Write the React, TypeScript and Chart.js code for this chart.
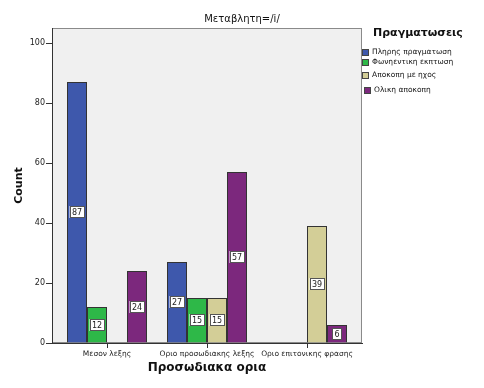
import React, { useEffect, useRef } from "react";
import { Chart, registerables } from "chart.js";

Chart.register(...registerables);

const categories = ["Μεσον λεξης", "Οριο προσωδιακης λεξης", "Οριο επιτονικης φρασης"];
const seriesNames = ["Πληρης πραγματωση", "Φωνηεντικη εκπτωση", "Αποκοπη με ηχος", "Ολικη αποκοπη"];
const plirisPragmatosi: (number | null)[] = [87, 27, null];
const fonientikiEkptosi: (number | null)[] = [12, 15, null];
const apokopiMeIxos: (number | null)[] = [null, 15, 39];
const olikiApokopi: (number | null)[] = [24, 57, 6];
const seriesColors = ["#3E58AC", "#2EB848", "#D3CE97", "#7C287D"];
const yTicks = [0, 20, 40, 60, 80, 100];
const chartTitle = "Μεταβλητη=/i/";
const xTitle = "Προσωδιακα ορια";
const yTitle = "Count";
const legendTitle = "Πραγματωσεις";

const FONT = "'DejaVu Sans', Verdana, sans-serif";

const decorPlugin = {
  id: "decor",
  beforeDraw(chart: any) {
    const { ctx, chartArea } = chart;
    ctx.save();
    ctx.fillStyle = "#FFFFFF";
    ctx.fillRect(0, 0, chart.width, chart.height);
    ctx.fillStyle = "#F0F0F0";
    ctx.fillRect(chartArea.left, chartArea.top, chartArea.right - chartArea.left, chartArea.bottom - chartArea.top);
    ctx.strokeStyle = "#8A8A8A";
    ctx.lineWidth = 1;
    ctx.strokeRect(chartArea.left + 0.5, chartArea.top + 0.5, chartArea.right - chartArea.left - 1, chartArea.bottom - chartArea.top - 1);
    ctx.restore();
  },
  afterDatasetsDraw(chart: any) {
    const { ctx, chartArea } = chart;
    ctx.save();
    // value labels
    ctx.font = `8px ${FONT}`;
    ctx.textAlign = "center";
    ctx.textBaseline = "middle";
    chart.data.datasets.forEach((ds: any, di: number) => {
      const meta = chart.getDatasetMeta(di);
      meta.data.forEach((el: any, i: number) => {
        const v = ds.data[i].y;
        if (v === null || v === undefined) return;
        const txt = String(v);
        const cx = Math.round(el.x);
        const cy = Math.round((el.y + el.base) / 2);
        const w = Math.ceil(ctx.measureText(txt).width) + 4;
        const h = 12;
        ctx.fillStyle = "#FFFFFF";
        ctx.fillRect(cx - w / 2, cy - h / 2, w, h);
        ctx.strokeStyle = "#555555";
        ctx.lineWidth = 1;
        ctx.strokeRect(Math.round(cx - w / 2) + 0.5, cy - h / 2 + 0.5, w - 1, h - 1);
        ctx.fillStyle = "#222222";
        ctx.fillText(txt, cx, cy + 0.5);
      });
    });

    // chart title
    ctx.fillStyle = "#111111";
    ctx.font = `10px ${FONT}`;
    ctx.textAlign = "center";
    ctx.fillText(chartTitle, chart.width / 2, 19);

    // axis titles
    ctx.font = `bold 12px ${FONT}`;
    ctx.fillText(xTitle, (chartArea.left + chartArea.right) / 2, 368);
    ctx.save();
    ctx.translate(19, (chartArea.top + chartArea.bottom) / 2);
    ctx.rotate(-Math.PI / 2);
    ctx.font = `bold 11px ${FONT}`;
    ctx.fillText(yTitle, 0, 0);
    ctx.restore();

    // legend
    ctx.font = `bold 11px ${FONT}`;
    ctx.textAlign = "left";
    ctx.fillText(legendTitle, 373, 33);
    const itemY = [52.5, 62, 75, 90];
    const itemX = [372, 372, 372, 374];
    ctx.font = `7.5px ${FONT}`;
    seriesNames.forEach((name, k) => {
      const y = itemY[k];
      const bx = k === 3 ? 364 : 362;
      ctx.fillStyle = seriesColors[k];
      ctx.fillRect(bx, Math.round(y - 3.5), 7, 7);
      ctx.strokeStyle = "#444444";
      ctx.strokeRect(bx + 0.5, Math.round(y - 3.5) + 0.5, 6, 6);
      ctx.fillStyle = "#111111";
      ctx.fillText(name, itemX[k], y);
    });
    ctx.restore();
  },
};

export default function App() {
  const canvasRef = useRef<HTMLCanvasElement | null>(null);

  useEffect(() => {
    const canvas = canvasRef.current;
    if (!canvas) return;
    const allSeries = [plirisPragmatosi, fonientikiEkptosi, apokopiMeIxos, olikiApokopi];
    const chart = new Chart(canvas, {
      type: "bar",
      data: {
        datasets: allSeries.map((vals, k) => ({
          label: seriesNames[k],
          data: vals.map((v, i) => ({ x: i, y: v })),
          backgroundColor: seriesColors[k],
          borderColor: "#333333",
          borderWidth: 1,
          barPercentage: 1,
          categoryPercentage: 0.8,
        })) as any,
      },
      options: {
        responsive: false,
        animation: false,
        devicePixelRatio: 1,
        layout: { padding: { top: 28, right: 122, left: 0, bottom: 0 } },
        plugins: {
          legend: { display: false },
          title: { display: false },
          tooltip: { enabled: false },
        },
        scales: {
          x: {
            type: "linear",
            min: -0.55,
            max: 2.55,
            offset: false,
            afterBuildTicks: (s: any) => {
              s.ticks = categories.map((_, i) => ({ value: i }));
            },
            afterFit: (s: any) => {
              s.height = 45;
            },
            grid: { offset: false, drawOnChartArea: false, drawTicks: true, tickLength: 5, color: "#333333" },
            border: { display: true, color: "#333333" },
            ticks: {
              autoSkip: false,
              maxRotation: 0,
              padding: 2,
              color: "#222222",
              font: { family: FONT, size: 7.5 },
              callback: (v: any) => categories[Math.round(Number(v))] ?? "",
            },
          },
          y: {
            type: "linear",
            min: 0,
            max: 105,
            afterBuildTicks: (s: any) => {
              s.ticks = yTicks.map((v) => ({ value: v }));
            },
            afterFit: (s: any) => {
              s.width = 52;
            },
            grid: { drawOnChartArea: false, drawTicks: true, tickLength: 6, color: "#333333" },
            border: { display: true, color: "#333333" },
            ticks: {
              padding: 1,
              color: "#222222",
              font: { family: FONT, size: 8 },
            },
          },
        },
      } as any,
      plugins: [decorPlugin],
    });
    return () => chart.destroy();
  }, []);

  return (
    <div style={{ position: "absolute", left: 0, top: 0, width: 484, height: 388, background: "#fff" }}>
      <canvas ref={canvasRef} width={484} height={388} style={{ display: "block" }} />
    </div>
  );
}
